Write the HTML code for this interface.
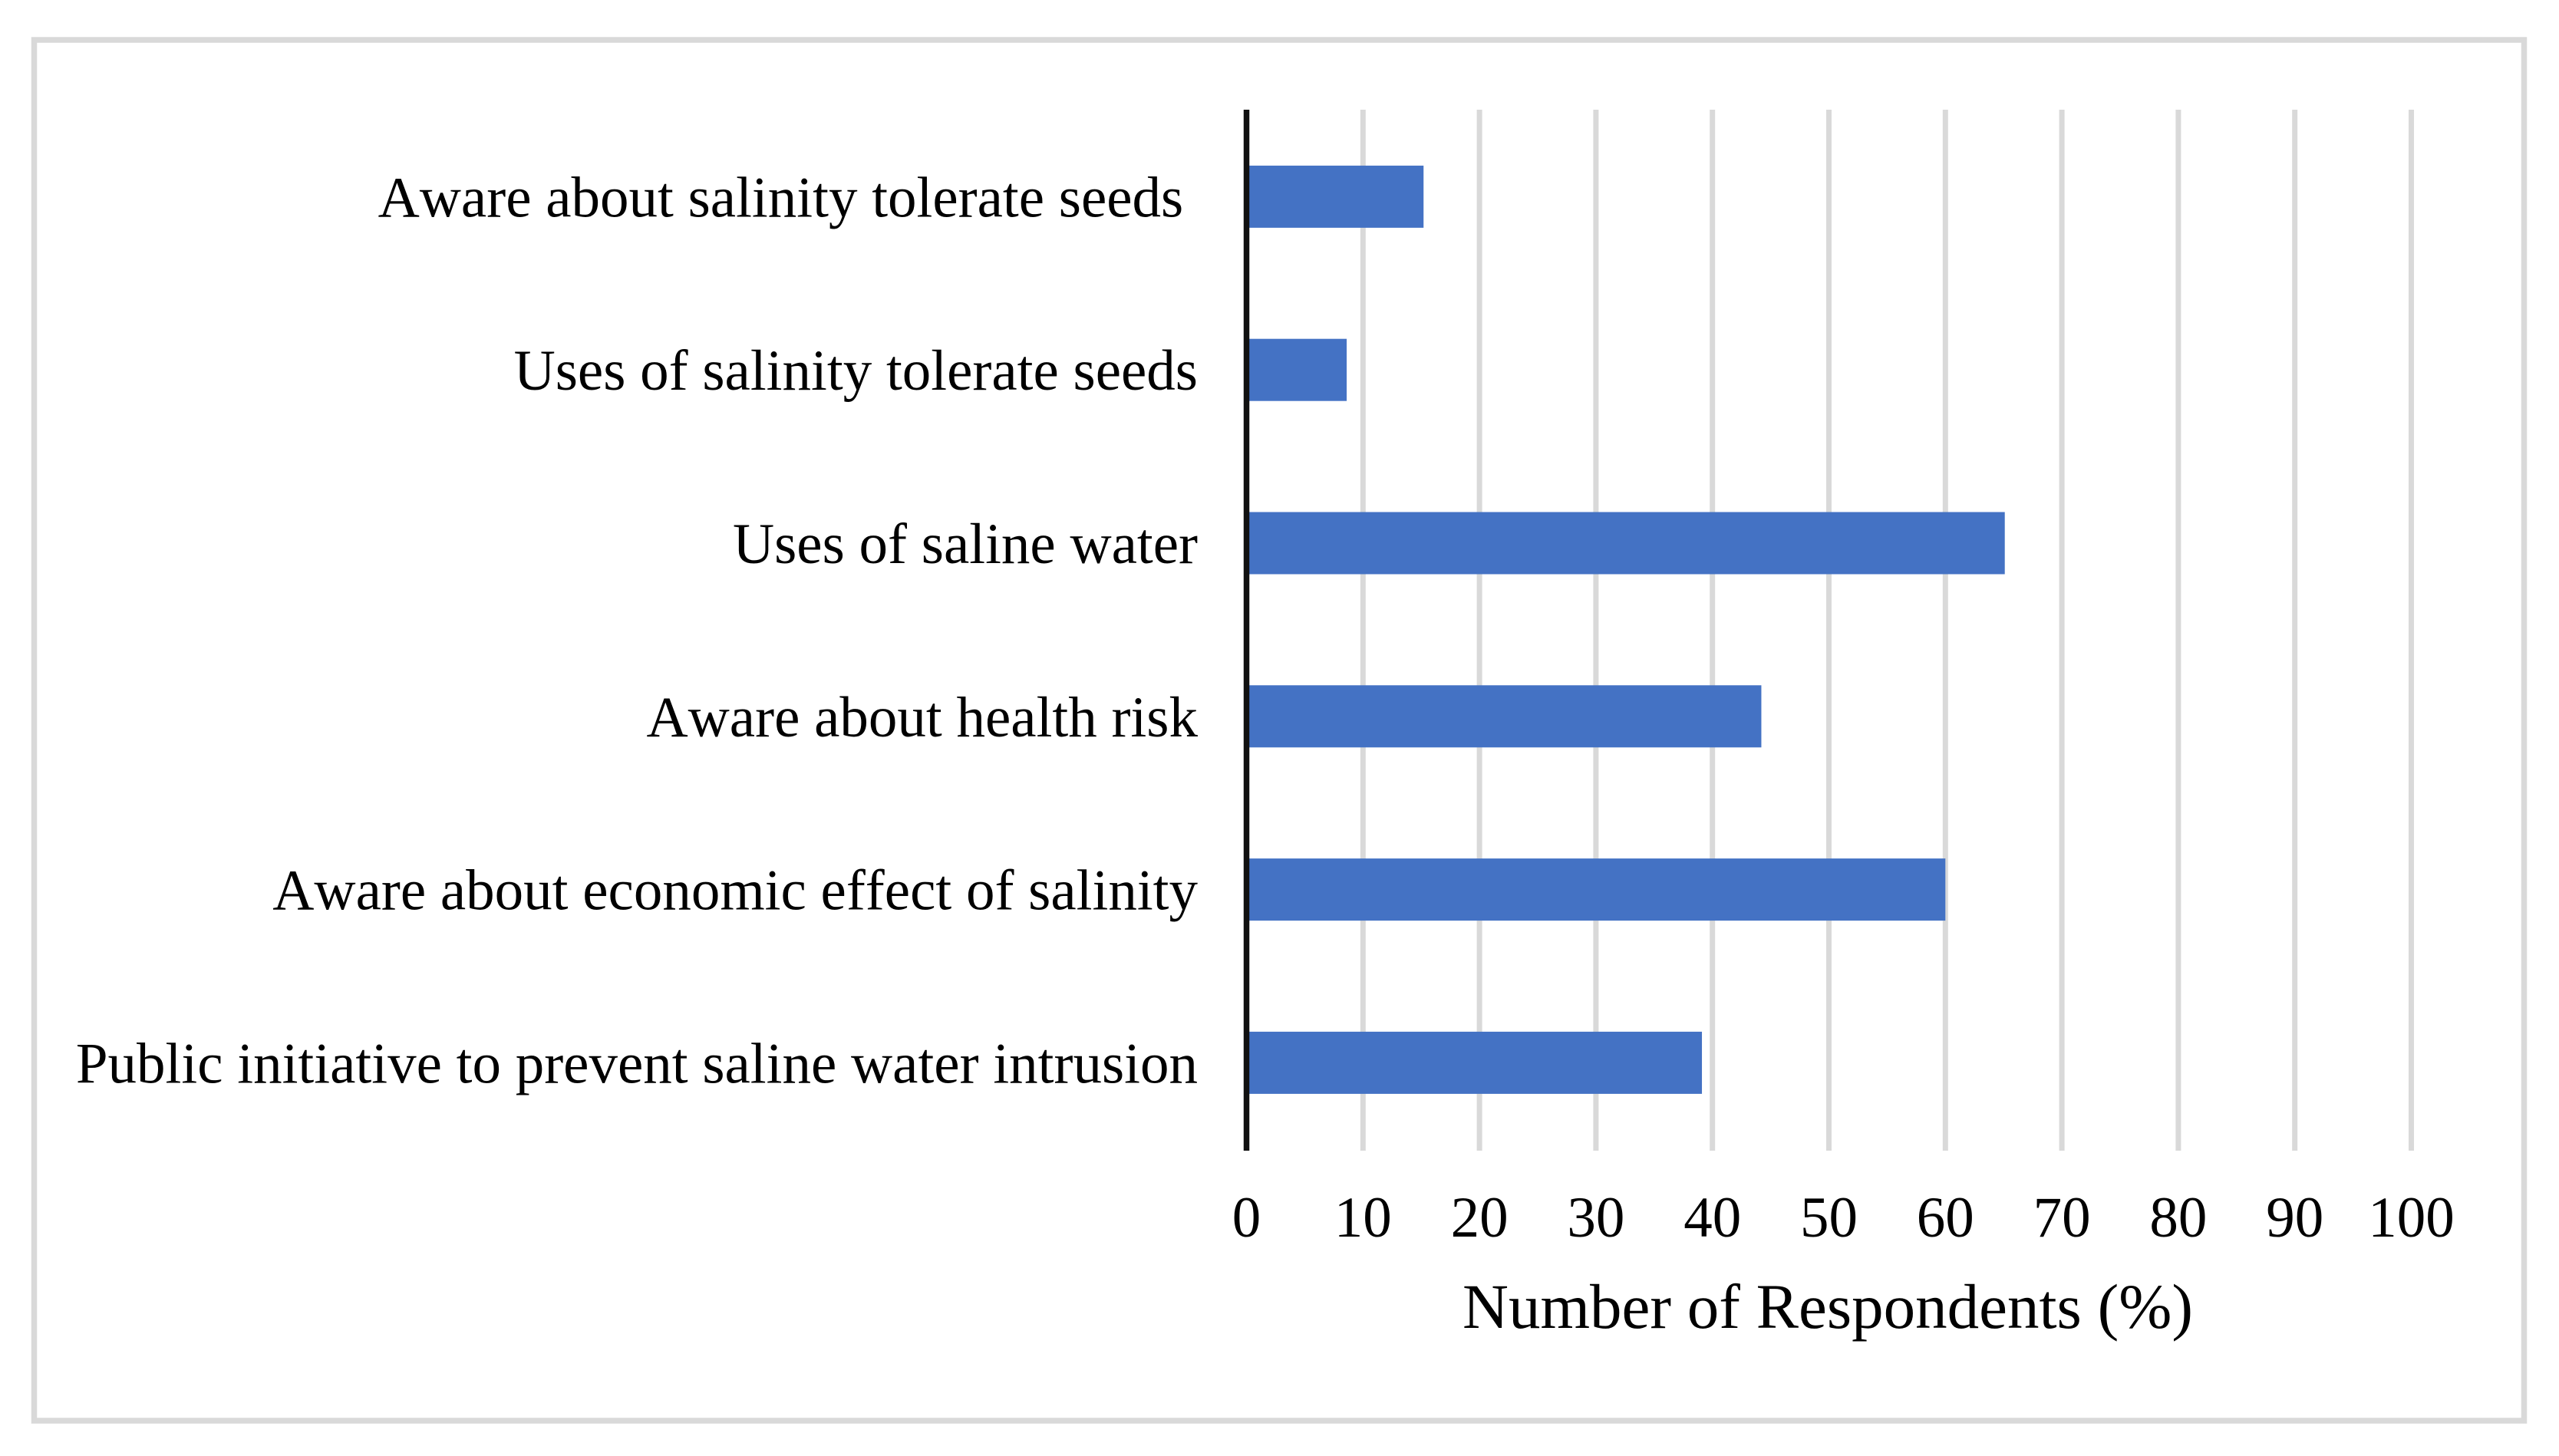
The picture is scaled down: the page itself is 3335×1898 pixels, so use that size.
<!DOCTYPE html>
<html>
<head>
<meta charset="utf-8">
<title>Number of Respondents (%)</title>
<style>
html,body{margin:0;padding:0;background:#fff;width:3335px;height:1898px;overflow:hidden}
svg{display:block}
text{font-family:"Liberation Serif",serif;fill:#000;white-space:pre;font-kerning:none}
</style>
</head>
<body>
<svg id="chart" xmlns="http://www.w3.org/2000/svg" width="3335" height="1898" viewBox="0 0 3335 1898">
  <rect x="0" y="0" width="3335" height="1898" fill="#ffffff"/>
  <rect x="44.5" y="52" width="3245" height="1800" fill="#ffffff" stroke="#D9D9D9" stroke-width="7.5"/>
  <g id="grid"></g>
  <g id="bars"></g>
  <line x1="1624.5" y1="143" x2="1624.5" y2="1500" stroke="#111111" stroke-width="7.5"/>
  <g id="cats"></g>
  <g id="ticks"></g>
  <text x="2382" y="1731" font-size="83" text-anchor="middle">Number of Respondents (%)</text>
</svg>
<script>
const categories = [
  "Aware about salinity tolerate seeds ",
  "Uses of salinity tolerate seeds",
  "Uses of saline water",
  "Aware about health risk",
  "Aware about economic effect of salinity",
  "Public initiative to prevent saline water intrusion"
];
const respondents = [15.2, 8.6, 65.1, 44.2, 60, 39.1];
const tickValues = [0, 10, 20, 30, 40, 50, 60, 70, 80, 90, 100];

const NS = "http://www.w3.org/2000/svg";
const plotLeft = 1624.5, plotRight = 3142.5, plotTop = 143, plotBottom = 1500;
const bandStart = 143.5, bandStep = 225.8, barHeight = 81;
const xMax = 100;
function xScale(v) { return plotLeft + (v / xMax) * (plotRight - plotLeft); }
function yBand(i) { return bandStart + bandStep * (i + 0.5); }

const gridG = document.getElementById("grid");
const barsG = document.getElementById("bars");
const catsG = document.getElementById("cats");
const ticksG = document.getElementById("ticks");

tickValues.forEach(function (t) {
  if (t !== 0) {
    const gl = document.createElementNS(NS, "line");
    
    
    gl.setAttribute("x1", xScale(t));
    gl.setAttribute("x2", xScale(t));
    gl.setAttribute("y1", plotTop);
    gl.setAttribute("y2", plotBottom);
    gl.setAttribute("stroke", "#D9D9D9");
    gl.setAttribute("stroke-width", "7");
    gridG.appendChild(gl);
  }
  const lab = document.createElementNS(NS, "text");
  
  
  lab.setAttribute("x", xScale(t));
  lab.setAttribute("y", 1612);
  lab.setAttribute("font-size", "75");
  lab.setAttribute("text-anchor", "middle");
  lab.textContent = String(t);
  ticksG.appendChild(lab);
});

categories.forEach(function (c, i) {
  const r = document.createElementNS(NS, "rect");
  
  
  r.setAttribute("x", xScale(0));
  r.setAttribute("y", yBand(i) - barHeight / 2);
  r.setAttribute("width", xScale(respondents[i]) - xScale(0));
  r.setAttribute("height", barHeight);
  r.setAttribute("fill", "#4472C4");
  barsG.appendChild(r);

  const t = document.createElementNS(NS, "text");
  
  
  t.setAttribute("x", 1561);
  t.setAttribute("y", yBand(i) + 26);
  t.setAttribute("font-size", "75");
  t.setAttribute("text-anchor", "end");
  t.setAttribute("xml:space", "preserve");
  t.textContent = c;
  catsG.appendChild(t);
});
</script>
</body>
</html>
